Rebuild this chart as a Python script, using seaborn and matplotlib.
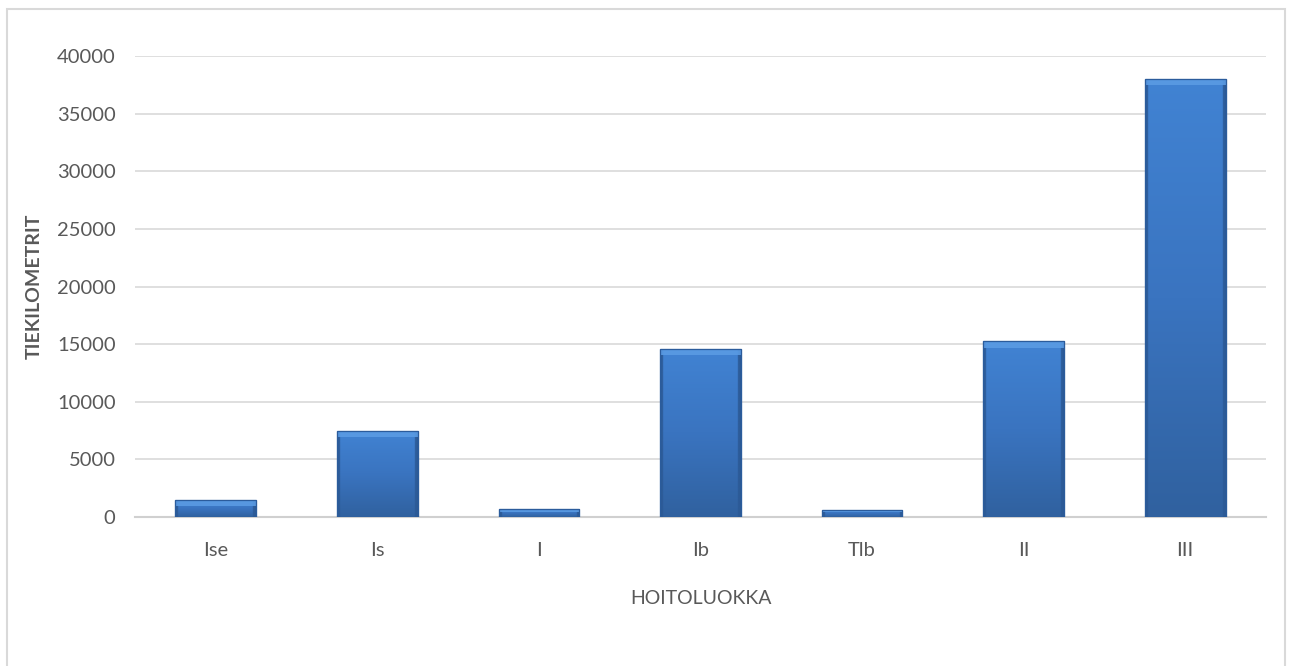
import numpy as np
import pandas as pd
import matplotlib
matplotlib.use("Agg")
import matplotlib.pyplot as plt
from matplotlib.patches import Rectangle
from matplotlib.colors import LinearSegmentedColormap
import seaborn as sns

# Road kilometres per maintenance class
categories = ["Ise", "Is", "I", "Ib", "Tlb", "II", "III"]
kilometres = [1450, 7500, 700, 14600, 650, 15250, 38000]
y_ticks = [0, 5000, 10000, 15000, 20000, 25000, 30000, 35000, 40000]

df = pd.DataFrame({"luokka": categories, "km": kilometres})

sns.set_theme(style="white")
plt.rcParams["font.family"] = ["Lato", "DejaVu Sans"]

W, H = 1293, 666
fig = plt.figure(figsize=(W / 100, H / 100), dpi=100)
ax = fig.add_axes([135 / W, 1 - 517 / H, (1266 - 135) / W, (517 - 56) / H])

sns.barplot(data=df, x="luokka", y="km", color="#3b78c6", width=0.5,
            edgecolor="#2b5c9c", linewidth=0.8, ax=ax, zorder=3)

# Bevelled shading on each bar: vertical gradient, darker sides, light top rim
grad = LinearSegmentedColormap.from_list("bev", ["#30619f", "#3a74c0", "#4183d3"])
side = LinearSegmentedColormap.from_list("side", ["#2c5a96", "#2c5a9600", "#2c5a9600", "#2c5a96"])
px_per_unit_x = (1266 - 135) / len(categories)
for p in ax.patches:
    x0, y0 = p.get_x(), p.get_y()
    w, h = p.get_width(), p.get_height()
    img = np.linspace(0, 1, 256).reshape(-1, 1)
    im = ax.imshow(img, cmap=grad, origin="lower", aspect="auto",
                   extent=[x0, x0 + w, y0, y0 + h], zorder=3.5)
    im.set_clip_path(p)
    edge = np.concatenate([np.linspace(0, 0.06, 10), np.full(236, 0.5), np.linspace(0.94, 1, 10)]).reshape(1, -1)
    ims = ax.imshow(edge, cmap=side, origin="lower", aspect="auto",
                    extent=[x0, x0 + w, y0, y0 + h], zorder=3.55)
    ims.set_clip_path(p)
    rim = min(h * 0.35, 550)
    ax.add_patch(Rectangle((x0, y0 + h - rim), w, rim, facecolor="#5a9be3",
                           edgecolor="none", alpha=0.9, zorder=3.6))
    ax.add_patch(Rectangle((x0, y0), w, h, facecolor="none",
                           edgecolor="#2b5c9c", linewidth=0.9, zorder=3.8))

ax.set_xlim(-0.5, len(categories) - 0.5)
ax.set_ylim(0, 40000)
ax.set_yticks(y_ticks)
ax.set_yticklabels([str(v) for v in y_ticks])
ax.yaxis.grid(True, color="#d9d9d9", linewidth=1.2, zorder=0)
ax.set_axisbelow(True)
for s in ["top", "right", "left"]:
    ax.spines[s].set_visible(False)
ax.spines["bottom"].set_color("#d0d0d0")
ax.spines["bottom"].set_linewidth(1.5)
ax.tick_params(axis="both", length=0, labelsize=14.5, labelcolor="#595959")
ax.tick_params(axis="x", pad=18)
ax.tick_params(axis="y", pad=14)

ax.set_xlabel("HOITOLUOKKA", fontsize=14, color="#595959", labelpad=22)
ax.set_ylabel("TIEKILOMETRIT", fontsize=14, color="#595959",
              fontweight="bold", labelpad=10)

# Light chart-area frame
fig.patches.append(Rectangle((7 / W, -0.05), (1285 - 7) / W, 1.05 - 9 / H,
                             transform=fig.transFigure, fill=False,
                             edgecolor="#d9d9d9", linewidth=1.5))

fig.savefig("out.png", dpi=100, facecolor="white")
